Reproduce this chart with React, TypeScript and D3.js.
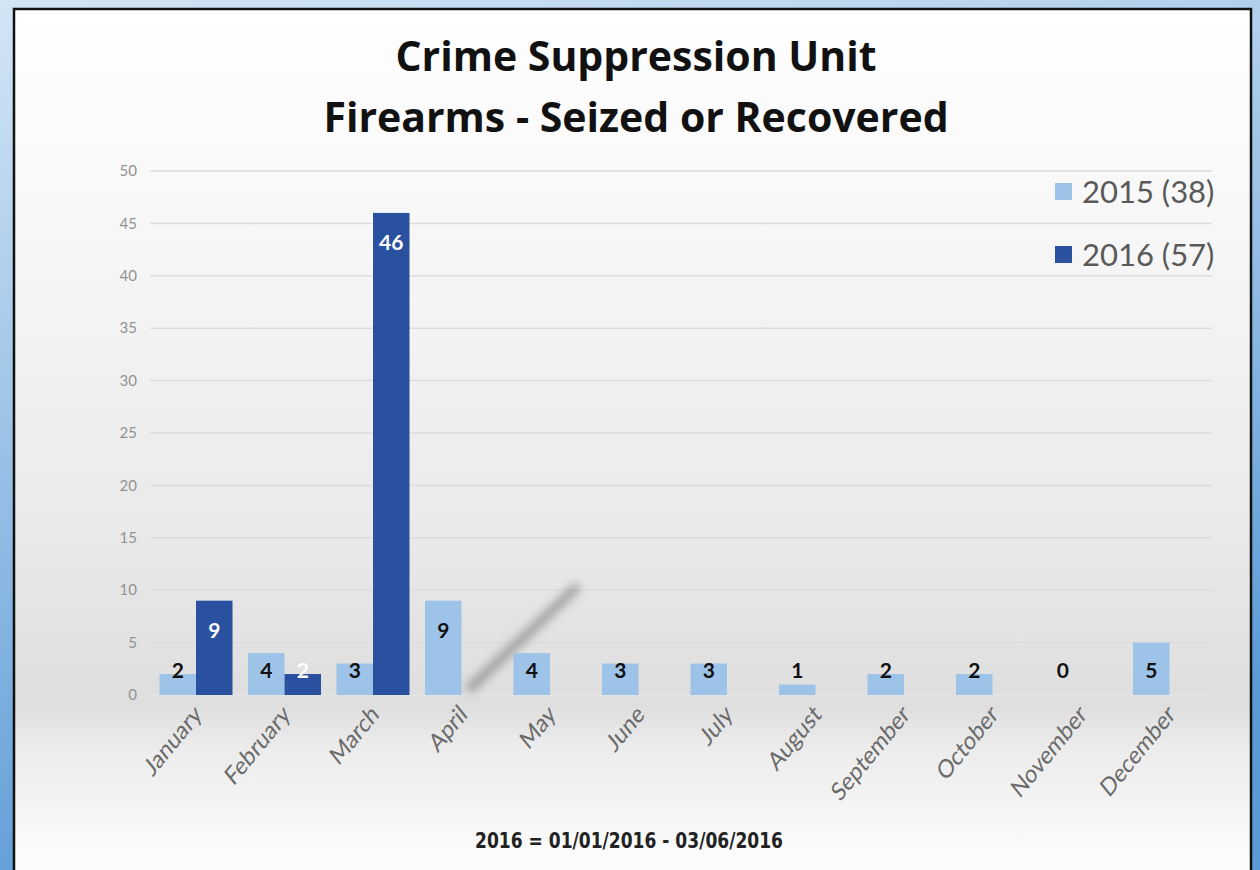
import * as d3 from "d3";
import * as React from "react";

const months = ["January", "February", "March", "April", "May", "June", "July", "August", "September", "October", "November", "December"];
const series = ["2015 (38)", "2016 (57)"];
const values2015 = [2, 4, 3, 9, 4, 3, 3, 1, 2, 2, 0, 5];
const values2016: (number | null)[] = [9, 2, 46, null, null, null, null, null, null, null, null, null];
const yTicks = [0, 5, 10, 15, 20, 25, 30, 35, 40, 45, 50];
const titleLines = ["Crime Suppression Unit", "Firearms - Seized or Recovered"];
const footnote = "2016  =  01/01/2016 - 03/06/2016";

const colors = ["#9dc3e8", "#2a51a0"];
const labelColors = ["#111", "#fff"];

export default function App() {
  const width = 1260;
  const height = 870;
  const marginLeft = 151.75;
  const plotRight = 1213.75;
  const yTop = 171;
  const yBottom = 695;

  const x0 = d3.scaleBand<string>().domain(months).range([marginLeft, plotRight]).paddingInner(0.175).paddingOuter(0.0875);
  const x1 = d3.scaleBand<number>().domain([0, 1]).range([0, x0.bandwidth()]);
  const y = d3.scaleLinear().domain([0, 50]).range([yBottom, yTop]);

  const data = [values2015, values2016];
  const labelY = (v: number) => Math.min(y(v) + 30, 671);

  return (
    <svg width={width} height={height} style={{ position: "absolute", left: 0, top: 0 }} fontFamily="Lato, 'Open Sans', sans-serif">
      <defs>
        <linearGradient id="blueBg" x1="0" y1="0" x2="0.3" y2="1">
          <stop offset="0%" stopColor="#d3e5f5" />
          <stop offset="100%" stopColor="#5b9ad6" />
        </linearGradient>
        <linearGradient id="panelBg" x1="0" y1="0" x2="0" y2="1">
          <stop offset="0%" stopColor="#ffffff" />
          <stop offset="25%" stopColor="#f7f7f7" />
          <stop offset="60%" stopColor="#e9e9e9" />
          <stop offset="79%" stopColor="#dedede" />
          <stop offset="84%" stopColor="#ececec" />
          <stop offset="95%" stopColor="#fafafa" />
          <stop offset="100%" stopColor="#ffffff" />
        </linearGradient>
        <filter id="blur" x="-50%" y="-50%" width="200%" height="200%">
          <feGaussianBlur stdDeviation="5" />
        </filter>
      </defs>
      <rect x={0} y={0} width={width} height={height} fill="url(#blueBg)" />
      <rect x={14} y={9} width={1237} height={880} fill="url(#panelBg)" stroke="#111" strokeWidth={2.5} />

      {/* titles */}
      {titleLines.map((t, i) => (
        <text key={t} x={636} y={71 + i * 61} textAnchor="middle" fontSize={41} fontWeight={700} fill="#111" fontFamily="'Open Sans', sans-serif">{t}</text>
      ))}

      {/* gridlines + y ticks */}
      {yTicks.map((t) => (
        <g key={t}>
          <line x1={150} x2={1212} y1={y(t)} y2={y(t)} stroke={t === 0 ? "#e4e4e4" : "#dcdcdc"} strokeWidth={1.5} />
          <text x={137} y={y(t)} dy="0.35em" textAnchor="end" fontSize={15} fill="#929292">{t}</text>
        </g>
      ))}

      {/* smudge */}
      <line x1={468} y1={690} x2={578} y2={586} stroke="#555" strokeWidth={9} opacity={0.5} filter="url(#blur)" />

      {/* bars */}
      {data.map((vals, s) =>
        vals.map((v, i) =>
          v === null || v === 0 ? null : (
            <rect key={`b${s}-${i}`} x={x0(months[i])! + x1(s)!} y={y(v)} width={x1.bandwidth()} height={yBottom - y(v)} fill={colors[s]} />
          )
        )
      )}

      {/* labels */}
      {data.map((vals, s) =>
        vals.map((v, i) =>
          v === null ? null : (
            <text key={`l${s}-${i}`} x={x0(months[i])! + x1(s)! + x1.bandwidth() / 2} y={labelY(v)} dy="0.35em" textAnchor="middle" fontSize={21} fontWeight={700} fill={labelColors[s]}>{v}</text>
          )
        )
      )}

      {/* x labels (source image is slightly stretched vertically) */}
      {months.map((m) => {
        const cx = x0(m)! + x0.bandwidth() / 2 + 7;
        return (
          <text key={m} transform={`translate(${cx},716) scale(1,1.22) rotate(-45)`} textAnchor="end" fontSize={21} fill="#6a6a6a">{m}</text>
        );
      })}

      {/* legend */}
      {series.map((s, i) => (
        <g key={s} transform={`translate(1055,${183 + i * 63})`}>
          <rect x={0} y={0} width={17} height={17} fill={colors[i]} />
          <text x={27} y={9} dy="0.35em" fontSize={31} fill="#595959">{s}</text>
        </g>
      ))}

      <text transform="translate(629,848) scale(1,1.15)" textAnchor="middle" fontSize={19} fontWeight={700} fill="#222" fontFamily="'Liberation Sans Narrow', 'DejaVu Sans Condensed', sans-serif">{footnote}</text>
    </svg>
  );
}
